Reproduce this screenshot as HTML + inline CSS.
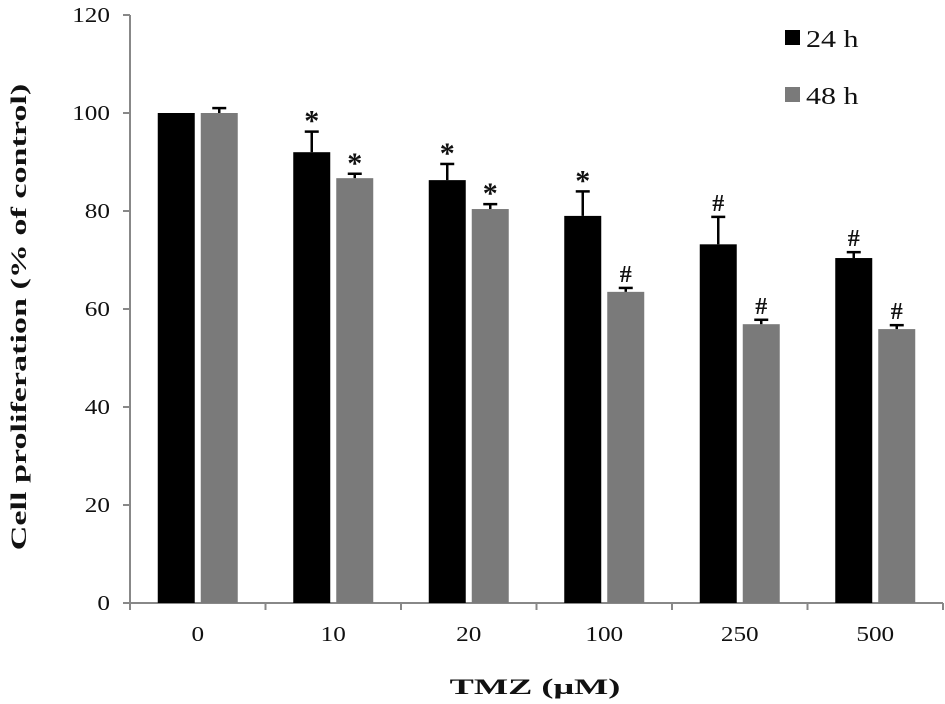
<!DOCTYPE html>
<html><head><meta charset="utf-8"><style>
body{margin:0;background:#fff}
svg text{font-family:"Liberation Serif",serif;fill:#111}
</style></head><body>
<svg width="945" height="699">
<g id="axes"></g><g id="bars"></g>
<g>
<rect x="785" y="30" width="15" height="15" fill="#000"/>
<text transform="translate(806,47) scale(1.25,1)" font-size="24">24 h</text>
<rect x="785" y="87" width="15" height="15" fill="#7a7a7a"/>
<text transform="translate(806,104) scale(1.25,1)" font-size="24">48 h</text>
</g>
<text transform="translate(535,694) scale(1.65,1)" text-anchor="middle" font-size="22" font-weight="bold">TMZ (μM)</text>
<text transform="translate(26,317) rotate(-90) scale(1.55,1)" text-anchor="middle" font-size="22" font-weight="bold">Cell proliferation (% of control)</text>
</svg>
<script>
const categories=["0","10","20","100","250","500"];
const v24=[100,92,86.3,79,73.2,70.4];
const e24=[0,4.2,3.3,5,5.6,1.2];
const v48=[100,86.7,80.4,63.5,56.9,55.9];
const e48=[1,0.9,1,0.8,0.9,0.8];
const m24=["","*","*","*","#","#"];
const m48=["","*","*","#","#","#"];
const yTicks=[0,20,40,60,80,100,120];
const NS="http://www.w3.org/2000/svg";
const x0=130,x1=943,y0=603,yTop=15;
const y=v=>y0-(v/120)*(y0-yTop);
const bw=(x1-x0)/categories.length;
const ax=document.getElementById('axes'),bg=document.getElementById('bars');
function mk(tag,at,p){const e=document.createElementNS(NS,tag);for(const k in at)e.setAttribute(k,at[k]);p.appendChild(e);return e;}
let l=mk('line',{x1:x0,x2:x0,y1:yTop,y2:y0,stroke:'#888','stroke-width':2},ax);


l=mk('line',{x1:x0,x2:x1,y1:y0,y2:y0,stroke:'#888','stroke-width':2},ax);


yTicks.forEach(t=>{
 mk('line',{x1:x0-7,x2:x0,y1:y(t),y2:y(t),stroke:'#888','stroke-width':2},ax);
 const tx=mk('text',{transform:'translate(110,'+(y(t)+7)+') scale(1.2,1)','font-size':21,'text-anchor':'end'},ax);tx.textContent=t;
 
 
});
for(let i=0;i<=categories.length;i++)mk('line',{x1:x0+i*bw,x2:x0+i*bw,y1:y0,y2:y0+7,stroke:'#888','stroke-width':2},ax);
categories.forEach((c,i)=>{
 const cx=x0+(i+0.5)*bw;
 const tx=mk('text',{transform:'translate('+cx+',641) scale(1.2,1)','font-size':21,'text-anchor':'middle'},ax);tx.textContent=c;
 
 
 [[v24,e24,m24,'#000',cx-40,'24h'],[v48,e48,m48,'#7a7a7a',cx+3,'48h']].forEach(([v,e,m,col,bx,s])=>{
  const w=37,top=y(v[i]);
  const r=mk('rect',{x:bx,y:top,width:w,height:y0-top,fill:col},bg);
  
  
  const mx=bx+w/2,et=y(v[i]+e[i]);
  if(e[i]>0){mk('line',{x1:mx,x2:mx,y1:top,y2:et,stroke:'#000','stroke-width':2.5},bg);
  mk('line',{x1:mx-7,x2:mx+7,y1:et,y2:et,stroke:'#000','stroke-width':2.5},bg);}
  if(m[i]){const t=mk('text',{x:mx,y:et-(m[i]=='*'?1:6),'font-size':m[i]=='*'?30:24,'font-weight':'bold','text-anchor':'middle'},bg);t.textContent=m[i];
  
  }
 });
});
</script>
</body></html>
